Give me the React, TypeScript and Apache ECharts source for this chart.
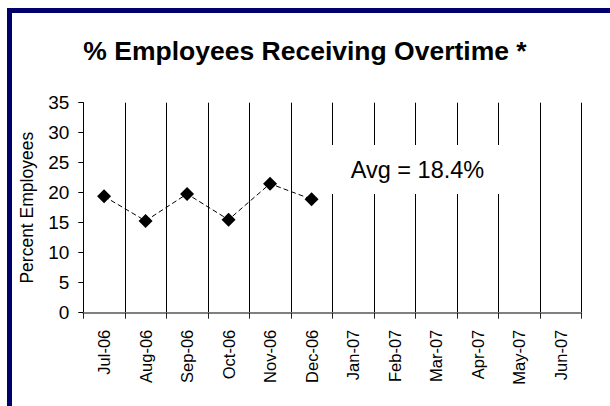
import React, { useEffect, useRef } from "react";
import * as echarts from "echarts";

const categories = [
  "Jul-06", "Aug-06", "Sep-06", "Oct-06", "Nov-06", "Dec-06",
  "Jan-07", "Feb-07", "Mar-07", "Apr-07", "May-07", "Jun-07",
];
const values = [19.4, 15.3, 19.8, 15.5, 21.5, 18.9];
const yMin = 0;
const yMax = 35;
const yInterval = 5;
const titleText = "% Employees Receiving Overtime *";
const yAxisTitle = "Percent Employees";

const FONT = "Arial, 'Liberation Sans', sans-serif";
const NAVY = "#00006b";

export default function App() {
  const ref = useRef<HTMLDivElement>(null);

  useEffect(() => {
    document.body.style.margin = "0";
    if (!ref.current) return;
    const chart = echarts.init(ref.current, null, { renderer: "svg" });
    const avg = values.reduce((a, b) => a + b, 0) / values.length;
    const seriesData = categories.map((_, i) => (i < values.length ? values[i] : null));

    chart.setOption({
      animation: false,
      backgroundColor: "#ffffff",
      textStyle: { fontFamily: FONT },
      title: {
        text: titleText,
        left: "center",
        top: 32,
        textStyle: { fontFamily: FONT, fontSize: 26.5, fontWeight: "bold", color: "#000" },
      },
      grid: { left: 83.3, right: 28.7, top: 102.7, bottom: 93.3, containLabel: false },
      xAxis: {
        type: "category",
        data: categories,
        boundaryGap: true,
        axisLine: { show: true, lineStyle: { color: "#808080", width: 2 } },
        axisTick: { show: true, interval: 0, length: 6, lineStyle: { color: "#222", width: 1 } },
        splitLine: { show: true, interval: 0, lineStyle: { color: "#000", width: 1 } },
        axisLabel: {
          interval: 0,
          rotate: 90,
          margin: 17,
          fontSize: 16.5,
          fontFamily: FONT,
          color: "#000",
        },
      },
      yAxis: {
        type: "value",
        min: yMin,
        max: yMax,
        interval: yInterval,
        name: yAxisTitle,
        nameLocation: "middle",
        nameGap: 47,
        nameRotate: 90,
        nameTextStyle: { fontSize: 17.5, fontFamily: FONT, color: "#000" },
        axisLine: { show: true, lineStyle: { color: "#000", width: 1 } },
        axisTick: { show: true, length: 5, lineStyle: { color: "#000" } },
        splitLine: { show: false },
        axisLabel: { fontSize: 19, margin: 14, fontFamily: FONT, color: "#000" },
      },
      series: [
        {
          type: "line",
          data: seriesData,
          symbol: "diamond",
          symbolSize: 14,
          itemStyle: { color: "#000" },
          lineStyle: { color: "#000", width: 1, type: [5, 3] },
          connectNulls: false,
          z: 10,
        },
      ],
      graphic: [
        { type: "rect", z: 100, shape: { x: 7, y: 8, width: 603, height: 5 }, style: { fill: NAVY } },
        { type: "rect", z: 100, shape: { x: 7, y: 8, width: 5, height: 398 }, style: { fill: NAVY } },
        {
          type: "rect",
          z: 100,
          shape: { x: 322, y: 145, width: 190, height: 49 },
          style: { fill: "#ffffff" },
        },
        {
          type: "text",
          z: 101,
          x: 417.5,
          y: 170,
          style: {
            text: "Avg = " + avg.toFixed(1) + "%",
            font: "23.5px " + FONT,
            fill: "#000",
            align: "center",
            verticalAlign: "middle",
          },
        },
      ],
    });

    return () => chart.dispose();
  }, []);

  return <div ref={ref} style={{ width: 610, height: 406 }} />;
}
